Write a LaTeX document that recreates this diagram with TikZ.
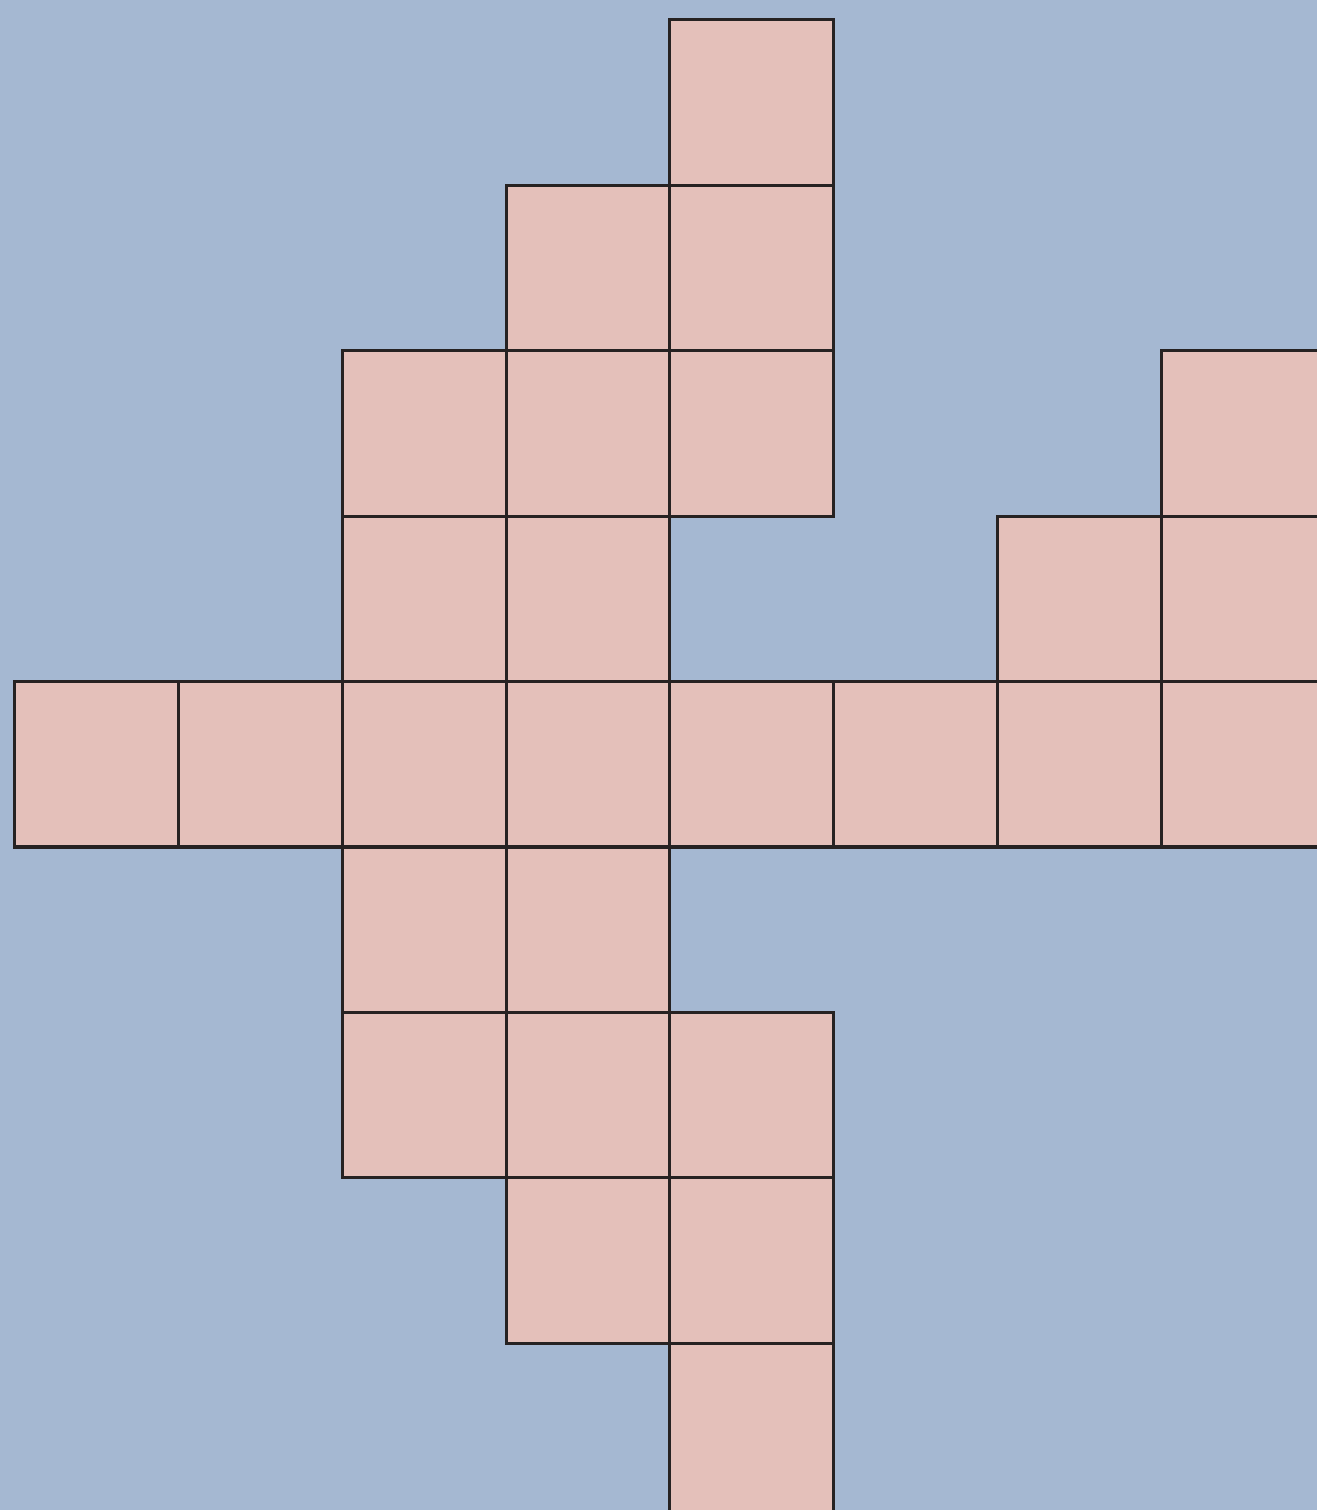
\documentclass[tikz,border=0pt]{standalone}
\definecolor{paper}{RGB}{165,184,210}
\definecolor{tile}{RGB}{228,192,186}
\definecolor{edge}{RGB}{38,34,34}
\tikzset{
  cellfill/.style={fill=tile},
  celledge/.style={draw=edge, line width=0.55pt, line join=miter},
}
\def\cells{4/0, 3/1,4/1, 2/2,3/2,4/2,7/2, 2/3,3/3,6/3,7/3,
  0/4,1/4,2/4,3/4,4/4,5/4,6/4,7/4, 2/5,3/5, 2/6,3/6,4/6, 3/7,4/7}
\begin{document}
\begin{tikzpicture}[x=1cm,y=-1.01cm]
\fill[paper] (0,0) rectangle (8.04,9.128);
\useasboundingbox (0,0) rectangle (8.04,9.128);
\clip (0,0) rectangle (8.04,9.128);

% pink cells
\foreach \c/\r in \cells {
    \fill[cellfill] (0.09+\c,0.12+\r) rectangle ++(1,1);
}
\fill[cellfill] (4.09,8.12) rectangle ++(1,1.3);

% outlines
\foreach \c/\r in \cells {
    \draw[celledge] (0.09+\c,0.12+\r) rectangle ++(1,1);
}
\draw[celledge] (4.09,8.12) rectangle ++(1,1.3);
\end{tikzpicture}
\end{document}
